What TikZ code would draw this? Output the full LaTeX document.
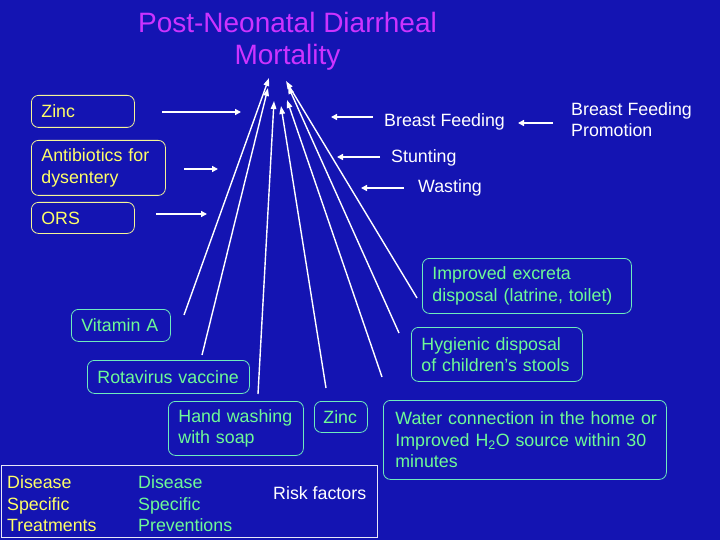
\documentclass[tikz,border=0pt]{standalone}
\usepackage{fontspec}
\setmainfont{Liberation Sans}
\usetikzlibrary{arrows.meta}
\definecolor{bgblue}{RGB}{20,20,178}
\definecolor{titlemag}{RGB}{204,51,255}
\definecolor{txtyellow}{RGB}{255,255,102}
\definecolor{txtgreen}{RGB}{110,250,150}
\definecolor{gborder}{RGB}{110,235,190}
\definecolor{yborder}{RGB}{245,245,150}
\tikzset{
  every node/.style={font=\fontsize{17.8}{21.5}\selectfont},
  ybox/.style={draw=yborder, line width=0.8pt, rounded corners=7pt, text=txtyellow,
    align=left, anchor=north west, inner xsep=10pt, inner ysep=2pt},
  gbox/.style={draw=gborder, line width=0.8pt, rounded corners=7pt, text=txtgreen,
    align=left, anchor=north west, inner xsep=10pt, inner ysep=2pt},
  wtext/.style={text=white, inner sep=0pt, align=left},
  harrow/.style={draw=white, line width=1.8pt, -{Triangle[length=6pt,width=6pt]}},
  carrow/.style={draw=white, line width=1.4pt, -{Triangle[length=8pt,width=5.5pt]}},
}
\begin{document}
\begin{tikzpicture}[x=1pt,y=-1pt]
\fill[bgblue] (0,0) rectangle (720,540);
\useasboundingbox (0,0) rectangle (720,540);

% title
\node[text=titlemag, align=center, inner sep=0pt, anchor=north,
  font=\fontsize{28}{32.5}\selectfont] (title) at (287.5,12)
  {Post-Neonatal Diarrheal\\Mortality};

% treatment boxes (yellow)
\node[ybox, text width=83pt, minimum height=32pt] (zincL) at (31,95) {Zinc};
\node[ybox, text width=114pt, minimum height=55pt] (anti) at (31,140)
  {\mbox{Antibiotics for}\\dysentery};
\node[ybox, text width=83pt, minimum height=31pt] (ors) at (31,202) {ORS};

% prevention boxes (green)
\node[gbox, text width=79pt, minimum height=32pt] (vita) at (71,309) {Vitamin A};
\node[gbox, text width=142pt, minimum height=33pt] (rota) at (87,360) {\mbox{Rotavirus vaccine}};
\node[gbox, text width=115pt, minimum height=54pt] (hand) at (168,401)
  {\mbox{Hand washing}\\\mbox{with soap}};
\node[gbox, text width=35pt, inner xsep=9pt, minimum height=31pt] (zincB) at (314,401) {Zinc};
\node[gbox, text width=189pt, minimum height=55pt] (impr) at (422,258)
  {\mbox{Improved excreta}\\\mbox{disposal (latrine, toilet)}};
\node[gbox, text width=151pt, minimum height=54pt] (hyg) at (411,327)
  {\mbox{Hygienic disposal}\\\mbox{of children’s stools}};
\node[gbox, text width=259pt, inner xsep=12pt, minimum height=79pt] (water) at (383,400)
  {\mbox{Water connection in the home or}\\\mbox{Improved H\textsubscript{2}O source within 30}\\minutes};

% risk factors (white)
\node[wtext, anchor=base west] (bf) at (384,127) {Breast Feeding};
\node[wtext, anchor=north west] (bfp) at (571,102) {Breast Feeding\\Promotion};
\node[wtext, anchor=base west] (stunt) at (391,163) {Stunting};
\node[wtext, anchor=base west] (wast) at (418,193) {Wasting};

% legend
\draw[white!90!bgblue, line width=0.9pt] (1,465) rectangle (377,537);
\node[wtext, text=txtyellow, anchor=north west] (legT) at (7,475.5) {Disease\\Specific\\Treatments};
\node[wtext, text=txtgreen, anchor=north west] (legP) at (138,475.5) {Disease\\Specific\\Preventions};
\node[wtext, anchor=base west] (legR) at (273,499) {Risk factors};

% horizontal arrows
\coordinate (zincS) at (162,112); \coordinate (zincE) at (241,112);
\coordinate (antiS) at (184,169); \coordinate (antiE) at (218,169);
\coordinate (orsS) at (156,214);  \coordinate (orsE) at (207,214);
\coordinate (bfS) at (373,117);   \coordinate (bfE) at (331,117);
\coordinate (stS) at (380,157);   \coordinate (stE) at (337,157);
\coordinate (waS) at (404,188);   \coordinate (waE) at (361,188);
\coordinate (prS) at (553,123);   \coordinate (prE) at (518,123);
\draw[harrow] (zincS) -- (zincE);
\draw[harrow] (antiS) -- (antiE);
\draw[harrow] (orsS) -- (orsE);
\draw[harrow] (bfS) -- (bfE);
\draw[harrow] (stS) -- (stE);
\draw[harrow] (waS) -- (waE);
\draw[harrow] (prS) -- (prE);

% converging arrows
\coordinate (c1s) at (184,315); \coordinate (c1e) at (269,78);
\coordinate (c2s) at (202,355); \coordinate (c2e) at (268,88);
\coordinate (c3s) at (258,394); \coordinate (c3e) at (274,101);
\coordinate (c4s) at (326,388); \coordinate (c4e) at (281,106);
\coordinate (c5s) at (382,377); \coordinate (c5e) at (287,100);
\coordinate (c6s) at (399,333); \coordinate (c6e) at (288,86);
\coordinate (c7s) at (417,298); \coordinate (c7e) at (286,81);
\draw[carrow] (c1s) -- (c1e);
\draw[carrow] (c2s) -- (c2e);
\draw[carrow] (c3s) -- (c3e);
\draw[carrow] (c4s) -- (c4e);
\draw[carrow] (c5s) -- (c5e);
\draw[carrow] (c6s) -- (c6e);
\draw[carrow] (c7s) -- (c7e);
\end{tikzpicture}
\end{document}
